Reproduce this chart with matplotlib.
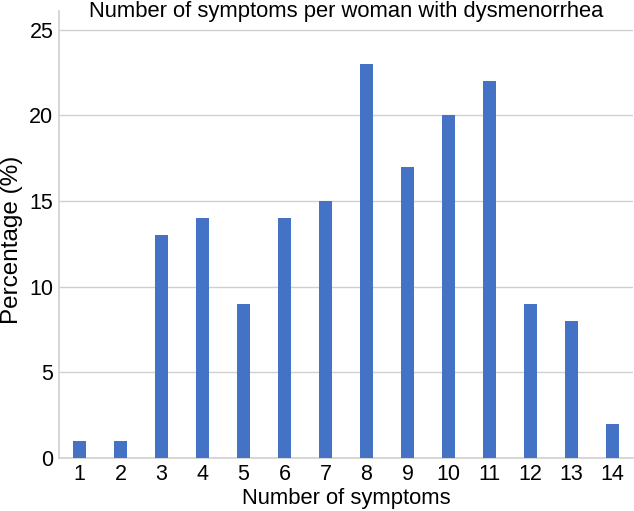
import matplotlib
matplotlib.use("Agg")
from matplotlib import pyplot as plt
import numpy as np

plt.rcParams["font.family"] = ["Liberation Sans", "DejaVu Sans"]

symptoms = [1, 2, 3, 4, 5, 6, 7, 8, 9, 10, 11, 12, 13, 14]
percentage = [1, 1, 13, 14, 9, 14, 15, 23, 17, 20, 22, 9, 8, 2]

fig = plt.figure(figsize=(6.34, 5.11), dpi=100)
ax = fig.add_axes([59 / 634, 1 - 458 / 511, (633 - 59) / 634, (458 - 11) / 511])

x = np.arange(len(symptoms))
ax.bar(x, percentage, width=0.325, color="#4472C4", zorder=3)

ax.set_xlim(-0.5, len(symptoms) - 0.5)
ax.set_ylim(0, 26.1)
ax.set_yticks([0, 5, 10, 15, 20, 25])
ax.set_xticks(x)
ax.set_xticklabels([str(s) for s in symptoms])
ax.grid(True, axis="y", color="#d0d0d0", linewidth=1, zorder=0)

for side in ["top", "right"]:
    ax.spines[side].set_visible(False)
ax.spines["left"].set_color("#d0d0d0")
ax.spines["bottom"].set_color("#d0d0d0")
ax.spines["left"].set_linewidth(1.2)
ax.spines["bottom"].set_linewidth(1.2)
ax.tick_params(axis="both", length=0, labelsize=15.5, pad=4)

ax.set_xlabel("Number of symptoms", fontsize=15.8)
ax.xaxis.set_label_coords(0.5, -0.066)
ax.set_ylabel("Percentage (%)", fontsize=17.5)
ax.yaxis.set_label_coords(-0.062, 0.488)
fig.text(0.546, 1 - 11 / 511, "Number of symptoms per woman with dysmenorrhea",
         ha="center", va="center", fontsize=15.8)

fig.savefig("out.png", dpi=100)
